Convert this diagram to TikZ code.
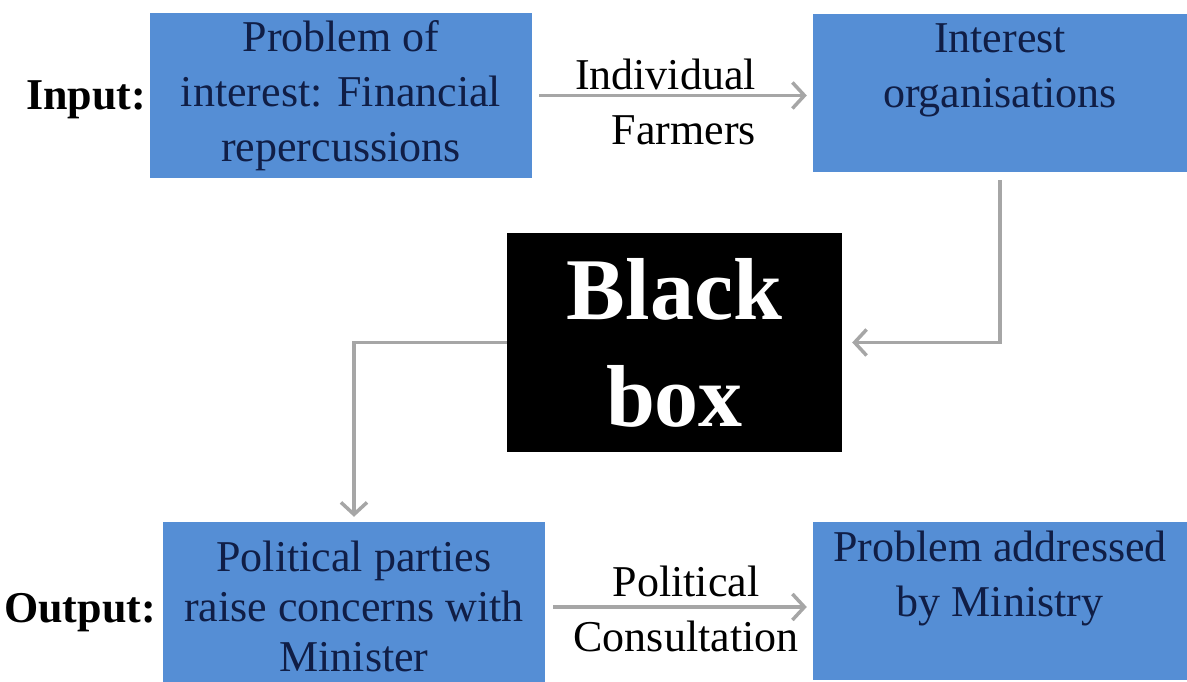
\documentclass[tikz,border=0pt]{standalone}
\usepackage{fontspec}
\setmainfont{Liberation Serif}
\usetikzlibrary{arrows.meta,positioning}
\definecolor{boxblue}{RGB}{85,142,213}
\definecolor{boxtext}{RGB}{16,30,70}
\definecolor{arrgrey}{RGB}{166,166,166}

\begin{document}
\begin{tikzpicture}[x=1pt,y=1pt,
  blk/.style={fill=boxblue,text=boxtext,align=center,inner sep=0pt,
    font=\fontsize{44}{55}\selectfont},
  lbl/.style={align=center,inner sep=0pt,font=\fontsize{44}{55}\selectfont},
  side/.style={font=\bfseries\fontsize{44}{55}\selectfont},
  arr/.style={draw=arrgrey,line width=3.5pt,-{Straight Barb[length=12pt,width=26pt]}}]
\useasboundingbox (0,0) rectangle (1187,682);
% input row
\node[side] (inlbl) at (86,582) {Input:};
\node[blk,minimum width=382pt,minimum height=165pt] (prob) at (341,586.5)
  {Problem of\\interest: Financial\\repercussions};
\node[blk,minimum width=374pt,minimum height=158pt] (org) at (1000,589)
  {Interest\\organisations\\\mbox{}};
% black box
\node[fill=black,text=white,align=center,inner sep=0pt,minimum width=335pt,minimum height=219pt,
  font=\bfseries\fontsize{88}{107}\selectfont] (bbox) at (674.5,339.5) {Black\\box};
% output row
\node[side] (outlbl) at (80,69) {Output:};
\node[blk,minimum width=382pt,minimum height=168pt,font=\fontsize{44}{50}\selectfont] (parties) at (354,76)
  {Political parties\\raise concerns with\\Minister};
\node[blk,minimum width=374pt,minimum height=158pt] (ministry) at (1000,81)
  {Problem addressed\\by Ministry\\\mbox{}};
% connectors
\draw[arr,shorten <=7pt,shorten >=6pt] (prob) --
  node[lbl,align=right,xshift=-7pt,yshift=-6pt] (farmers) {Individual\\Farmers} (prob -| org.west);
\draw[arr,shorten <=8pt,shorten >=10pt] (org.south) |- (bbox.east);
\draw[arr,shorten >=5pt] (bbox.west) -| (parties.north);
\draw[arr,shorten <=8pt,shorten >=6pt] ([yshift=-1pt]parties.east) --
  node[lbl,xshift=7pt,yshift=-2pt] (consult) {Political\\Consultation} ([yshift=-1pt]parties.east -| ministry.west);
\end{tikzpicture}
\end{document}
